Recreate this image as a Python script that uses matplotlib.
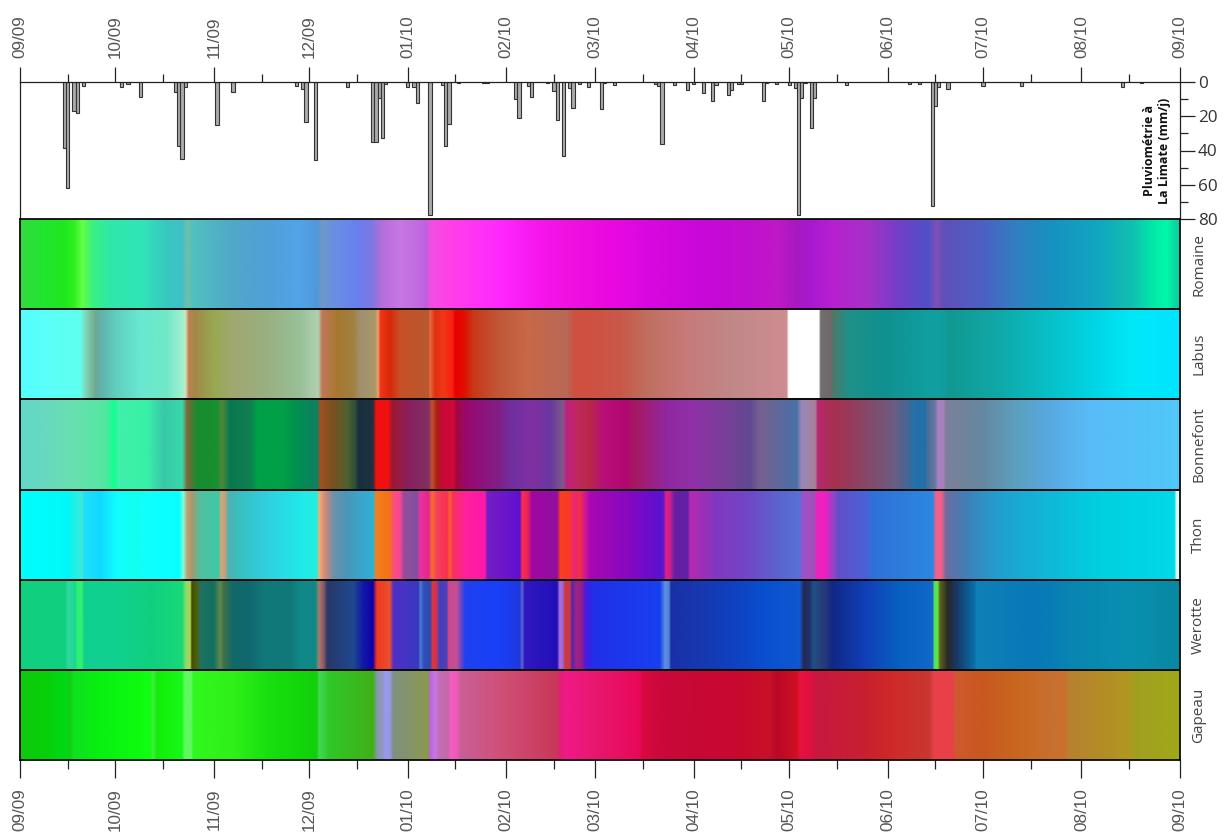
import numpy as np
import matplotlib
matplotlib.use('Agg')
import matplotlib.pyplot as plt
from matplotlib.colors import to_rgb

# days counted from 01/09/2009
month_days = [0, 30, 61, 91, 122, 153, 181, 212, 242, 273, 303, 334, 365]
month_labels = ['09/09', '10/09', '11/09', '12/09', '01/10', '02/10', '03/10', '04/10', '05/10', '06/10', '07/10', '08/10', '09/10']
mid_month_days = [15, 45, 76, 106, 137, 168, 196, 227, 257, 288, 318, 349]

# rainfall at La Limate
rain_days = [14, 15, 17, 18, 20, 32, 34, 38, 49, 50, 51, 52, 62, 67, 87, 89, 90, 93, 103, 111, 112, 113, 114, 115,
             122, 124, 125, 129, 133, 134, 135, 138, 146, 147, 156, 157, 160, 161, 166, 168, 169, 171, 173, 174, 176,
             179, 183, 184, 187, 200, 201, 202, 206, 210, 212, 215, 218, 219, 223, 224, 226, 227, 234, 235, 238, 242,
             244, 245, 246, 247, 249, 250, 260, 280, 283, 287, 288, 289, 292, 303, 315, 347, 353]
rain_mm = [38.7, 62, 16.7, 18.3, 2.5, 3.1, 1, 9, 5.8, 37.4, 44.8, 3.1, 25.3, 5.8, 2.5, 4.3, 23.2, 45.5, 3.1, 34.8, 34.8, 9.5, 32.5, 1.2,
           3.1, 3.1, 12.5, 77.7, 1.6, 37.4, 24.5, 0.8, 0.8, 0.8, 10.1, 21, 2.3, 9, 0.8, 5.3, 22.4, 43.2, 3.7, 15.4, 1,
           3.1, 16, 0.8, 1.6, 1.2, 2.3, 36.2, 1.6, 4.5, 1, 6.6, 10.9, 1.6, 7.4, 4.5, 1.2, 1.2, 10.9, 0.8, 1, 1.8,
           3.7, 77.7, 9.5, 0.8, 26.9, 9.5, 1.8, 1, 1, 72.2, 13.8, 3.1, 3.9, 2.3, 2.5, 3.1, 0.8]

rain_ticks = [0, 20, 40, 60, 80]
rain_minor = [10, 30, 50, 70]

strip_names = ['Romaine', 'Labus', 'Bonnefont', 'Thon', 'Werotte', 'Gapeau']

# colour of each strip along the year
romaine_days = [0, 7, 14, 17, 19.5, 22.6, 28, 38, 46, 51, 52.5, 54.5, 67, 78, 88, 93.5, 95, 98.5, 106, 111, 112.7, 116.4, 119.6, 123.7, 128, 129, 135, 151, 161.4, 174, 188, 198, 214, 229.7, 238, 244.5, 248.6, 256, 266.5, 277, 286, 288.5, 290.5, 303, 313.7, 324, 340, 350, 358, 361, 365]
romaine_colors = ['#35d93f', '#22e530', '#1ee81e', '#30f020', '#66ff44', '#3cf080', '#2fe8a8', '#30e5b8', '#38c8c0', '#40c0c8', '#6cc0a8', '#50c0c0', '#50a8c8', '#50a0d8', '#50a4e8', '#5098d8', '#7098c8', '#6890e0', '#6880f0', '#8078e0', '#a870d8', '#c070e0', '#c878e0', '#c070e0', '#c060e0', '#f050e0', '#ff40e8', '#ff28ff', '#f818f0', '#f010e0', '#e808e0', '#d808e0', '#c808d8', '#c010d0', '#c018c8', '#a818c0', '#a818d0', '#b820d0', '#a830c8', '#7040c8', '#5050c8', '#8050b8', '#6050b8', '#4c60c4', '#3080c0', '#1890c0', '#10a8c0', '#10c0b0', '#00f0a8', '#00f8a8', '#10c8a0']

labus_days = [0, 18.9, 20.5, 23.6, 25, 30.4, 37.8, 46, 51, 52, 53, 55, 60.8, 67, 77.7, 88, 93.8, 95, 99.7, 104.9, 107, 111.7, 112.7, 113.3, 116.4, 119.6, 128.5, 129, 130.6, 133, 136, 137, 140, 142.6, 151, 159.5, 172, 174.6, 178, 188.8, 198, 208.7, 224, 241.4, 241.8, 251.6, 251.8, 255.4, 255.8, 260.6, 271.6, 287.3, 291.5, 292, 308, 324, 340, 350, 365]
labus_colors = ['#55ffff', '#60fff0', '#80d8b8', '#70a890', '#60b0a8', '#60d0c0', '#68e8d0', '#70e8c8', '#a0f0d0', '#c8e8c0', '#c08050', '#a08848', '#98a850', '#a0a870', '#98b080', '#98c098', '#b0d0b0', '#c07858', '#a87830', '#a08040', '#a09070', '#a89868', '#f0a070', '#f03818', '#d82808', '#c85028', '#b85830', '#e86840', '#e03010', '#f03818', '#f82010', '#e80000', '#e01000', '#c83818', '#c05838', '#c86848', '#b86858', '#d05040', '#d05040', '#c85848', '#c07060', '#c87878', '#c08888', '#d08c90', '#ffffff', '#ffffff', '#707070', '#706868', '#507868', '#209088', '#109090', '#10a0a0', '#109c9c', '#109890', '#10a8a8', '#08c0c8', '#00d8e8', '#00e8f8', '#00e4ff']

bonnefont_days = [0, 7, 16.8, 27, 29.4, 30.9, 40, 45, 51, 52.5, 55.6, 62, 63.5, 66, 72.4, 74.6, 82.8, 87, 93.5, 94.4, 98.5, 102.9, 105.4, 106.4, 111, 112, 115.8, 117, 122.7, 128.5, 129.6, 131.2, 132.8, 136.3, 137.5, 140.6, 151, 155, 161.4, 166.8, 170.9, 172, 175, 179.3, 183.5, 191, 193, 203.6, 211.8, 222.5, 229.7, 232.9, 244.4, 246, 250.4, 251, 256, 263.4, 274.8, 280, 281, 284.8, 285.8, 288, 289, 290.5, 291.5, 303, 313.7, 324, 336.7, 365]
bonnefont_colors = ['#60d8c8', '#68d8c0', '#68e0b0', '#50e8a0', '#10ff90', '#40f0a8', '#38f0a8', '#38c8a8', '#38d8a8', '#806838', '#188c30', '#189030', '#508838', '#087850', '#108050', '#00a048', '#00a048', '#009050', '#108060', '#a05020', '#785020', '#506030', '#305038', '#183040', '#203040', '#f01010', '#f01010', '#a01830', '#882060', '#803060', '#c05030', '#a82010', '#c80838', '#d00838', '#a00840', '#980870', '#802088', '#7030a0', '#8030a0', '#6838a0', '#805888', '#c02080', '#c02860', '#b82848', '#b81078', '#b00870', '#a81860', '#9028a0', '#9030a8', '#784098', '#604890', '#786090', '#4870a8', '#9888b8', '#a88098', '#b82870', '#a83050', '#904060', '#6c5c80', '#406898', '#2870a8', '#2070a8', '#4c7098', '#6878a0', '#a880c0', '#a880c0', '#7c8098', '#6488a0', '#5ca0c0', '#58a8e0', '#58bcf8', '#50c8f8']

thon_days = [0, 14.7, 17.3, 19.5, 19.9, 25, 30.5, 35.6, 41, 50, 51.3, 52.5, 54, 56.6, 62.4, 63.2, 64.5, 65.5, 69, 77.7, 88, 93.4, 94, 96, 98.5, 102.9, 111, 112, 116.4, 117.4, 119.6, 120.6, 121.7, 124.9, 125.9, 128.5, 129.6, 131, 134.3, 135.3, 136.2, 140.6, 146.3, 147, 151, 157.3, 158, 159.9, 161, 169, 170, 173, 174, 175, 176, 177.8, 179.4, 191, 201.4, 202.6, 203.2, 204.5, 206, 210.2, 210.8, 219.3, 229.7, 240.1, 245.4, 246.4, 250, 250.8, 253.3, 256.4, 257.4, 266.4, 268, 287.3, 288.2, 290, 291.5, 298, 308.3, 324, 340, 363.4, 364, 365]
thon_colors = ['#00ffff', '#00f8f8', '#20f0e8', '#40e8d8', '#20e0f8', '#10d8ff', '#10ffff', '#10fff0', '#10ffff', '#08ffff', '#80ffe0', '#c0a070', '#a89870', '#50c0a0', '#40c8a8', '#d0a870', '#c0a080', '#50b0b0', '#38c0c0', '#30d0e0', '#20e8e8', '#20f0e0', '#f0b070', '#d08878', '#7090a8', '#4898b8', '#30b0d8', '#f08020', '#f87018', '#f85080', '#f84890', '#a048a0', '#905098', '#8050a0', '#f030a0', '#e02890', '#f87020', '#f84060', '#f83050', '#f86030', '#f83060', '#ff20a0', '#ff18a8', '#7020c0', '#7018c8', '#6010d0', '#f83050', '#e82060', '#a008a0', '#9010a0', '#f84020', '#f83828', '#f02870', '#e82870', '#f83040', '#d01890', '#a808b0', '#8808c0', '#5c10d0', '#6018c8', '#e02080', '#d02090', '#6820a0', '#6020a8', '#b828b0', '#8038c0', '#7048c8', '#5868d0', '#5870d8', '#a050c8', '#a050b8', '#f020c0', '#f020c0', '#8848c8', '#6050c8', '#4c60d8', '#3070d8', '#2c88e0', '#f06090', '#f06088', '#6c6ca0', '#4080b8', '#20a0d0', '#10b8d8', '#00d0e0', '#00d8e8', '#e0f8f8', '#e0f8f8']

werotte_days = [0, 14, 15.2, 17.3, 18, 19.5, 20, 30.5, 41, 51, 52, 53.5, 54, 55.6, 56.6, 60.8, 63, 64, 67, 72.4, 76.5, 85, 88, 93, 93.9, 95.5, 96.6, 104.9, 108, 111, 112.2, 116.4, 117.4, 125.4, 125.9, 127, 129, 129.8, 131, 132, 134.3, 134.8, 137.4, 140, 151, 157.3, 158, 158.7, 169, 169.8, 171, 171.5, 173, 173.7, 175, 176.8, 177.8, 180.4, 201.4, 203, 204.3, 204.8, 214, 224.4, 235, 245.4, 246.7, 248.6, 249.6, 253.3, 255.8, 266.4, 277, 287.3, 287.7, 288.9, 289.5, 290.8, 292, 294.8, 300.5, 301, 318.9, 334.5, 350, 365]
werotte_colors = ['#10d080', '#10d080', '#30d8a0', '#18d890', '#30f070', '#30f070', '#10d090', '#10d090', '#10d080', '#18d878', '#80e060', '#b8d060', '#405000', '#506008', '#207060', '#107060', '#608850', '#407048', '#106868', '#106870', '#107878', '#107878', '#108888', '#108888', '#a08070', '#905860', '#283868', '#204890', '#1018a8', '#1000a8', '#f03820', '#e85030', '#5030c8', '#3838c0', '#5080d8', '#3050b8', '#3048b0', '#e03838', '#d03050', '#4040c0', '#5040b8', '#d04888', '#c05098', '#2040f0', '#1840f8', '#2038e0', '#6068c8', '#3018c0', '#2010b8', '#b070e0', '#a060c0', '#d03838', '#c83850', '#5028a8', '#a02088', '#902088', '#5018e0', '#2030e8', '#1840f0', '#6090e0', '#5080d8', '#1830a8', '#1838b0', '#1040c0', '#0850d0', '#1058d0', '#282850', '#203070', '#205080', '#283878', '#102888', '#1040b8', '#0860c0', '#1068c8', '#50e060', '#60e840', '#606020', '#404820', '#282828', '#183868', '#0870a8', '#1080b8', '#0878b8', '#0888b0', '#0890b0', '#0888a0']

gapeau_days = [0, 7.4, 14.2, 15.8, 16.7, 25, 41, 41.8, 42.8, 43.5, 51, 51.6, 53.8, 54.4, 67, 77.7, 93.4, 93.9, 96, 97, 111, 112.4, 114.3, 114.8, 116.4, 117.4, 125.9, 128.5, 129, 130.6, 131.7, 134.8, 135.3, 137.5, 138.5, 151, 169, 169.7, 172, 180.4, 195, 196, 203.6, 224.4, 236, 238, 244.5, 245.4, 248.6, 250.7, 266.4, 273.7, 286.3, 287.6, 293.6, 294.2, 303, 314.7, 325, 329.4, 329.8, 350, 350.7, 365]
gapeau_colors = ['#10c810', '#08d008', '#00d818', '#10d010', '#10e020', '#08f010', '#10ff10', '#40f040', '#20e818', '#10f008', '#18f818', '#60f860', '#60f860', '#30f820', '#30f018', '#18e010', '#10d008', '#40d850', '#38d040', '#30c828', '#40b018', '#8898b0', '#9098c8', '#9898f0', '#9898e0', '#809080', '#889858', '#889850', '#c060e0', '#c878e8', '#c070b8', '#c868a8', '#f060c0', '#f058b8', '#c86098', '#d05078', '#c83858', '#e02070', '#f01888', '#e81870', '#e80858', '#d80840', '#c80838', '#c80830', '#c81028', '#b80828', '#d01020', '#e81040', '#e01040', '#c81840', '#c82030', '#d02828', '#c83830', '#e84048', '#e84048', '#d05830', '#c85820', '#c86820', '#c87030', '#c87030', '#b88030', '#b09820', '#a0a020', '#a0a818']

strip_days = [romaine_days, labus_days, bonnefont_days, thon_days, werotte_days, gapeau_days]
strip_colors = [romaine_colors, labus_colors, bonnefont_colors, thon_colors, werotte_colors, gapeau_colors]

W, H = 1223, 833
LINE = '#222222'
GREY = '#555555'


def px_axes(fig, left, top, right, bottom):
    return fig.add_axes([left / W, 1 - bottom / H, (right - left) / W, (bottom - top) / H])


fig = plt.figure(figsize=(W / 100, H / 100), dpi=100)

# -----rain panel-----
ax_rain = px_axes(fig, 20, 82, 1180, 219)
ax_rain.bar(rain_days, rain_mm, width=1, facecolor='#aaaaaa', edgecolor='#333333', linewidth=0.8)
ax_rain.set_xlim(0, 365)
ax_rain.set_ylim(80, 0)
ax_rain.spines['bottom'].set_visible(False)
for s in ['left', 'right', 'top']:
    ax_rain.spines[s].set_color(LINE)
    ax_rain.spines[s].set_linewidth(0.9)

ax_rain.xaxis.tick_top()
ax_rain.set_xticks(month_days)
ax_rain.set_xticklabels(month_labels, rotation=90, family='Liberation Sans', fontsize=12.3, color=GREY)
ax_rain.set_xticks(mid_month_days, minor=True)
ax_rain.tick_params(axis='x', which='major', length=10.8, width=0.9, color=LINE, pad=6.5)
ax_rain.tick_params(axis='x', which='minor', length=5.8, width=0.9, color=LINE)

ax_rain.yaxis.tick_right()
ax_rain.set_yticks(rain_ticks)
ax_rain.set_yticklabels([str(v) for v in rain_ticks], family='Open Sans', fontsize=12.3, color='#333333')
ax_rain.set_yticks(rain_minor, minor=True)
ax_rain.tick_params(axis='y', which='major', length=10.8, width=0.9, color=LINE, pad=2)
ax_rain.tick_params(axis='y', which='minor', length=5.8, width=0.9, color=LINE)

ax_rain.text(357.8, 40, 'Pluviométrie à\nLa Limate (mm/j)', rotation=90, ha='center', va='center', multialignment='center',
             family='Open Sans', fontweight='bold', fontsize=9, color='#111111', linespacing=1.2)

# -----colour strips-----
ax = px_axes(fig, 20, 219, 1180, 760)
grid = np.arange(0, 365.25, 0.25)
for i in range(len(strip_names)):
    days = np.array(strip_days[i])
    rgb = np.array([to_rgb(c) for c in strip_colors[i]])
    row = np.stack([np.interp(grid, days, rgb[:, k]) for k in range(3)], axis=1)
    ax.imshow(row[np.newaxis, :, :], extent=[0, 365, i + 1, i], aspect='auto', interpolation='bilinear')
ax.set_xlim(0, 365)
ax.set_ylim(len(strip_names), 0)

for i in range(1, len(strip_names)):
    ax.axhline(i, color='#0a0a0a', linewidth=1.4)
for s in ax.spines.values():
    s.set_color('#0a0a0a')
    s.set_linewidth(1.3)

ax.set_xticks(month_days)
ax.set_xticklabels(month_labels, rotation=90, family='Liberation Sans', fontsize=12.3, color=GREY)
ax.set_xticks(mid_month_days, minor=True)
ax.tick_params(axis='x', which='major', length=13, width=0.9, color=LINE, pad=7.5)
ax.tick_params(axis='x', which='minor', length=6.5, width=0.9, color=LINE)

ax.yaxis.tick_right()
ax.set_yticks(np.arange(len(strip_names)) + 0.5)
ax.set_yticklabels(strip_names, rotation=90, va='center', family='Open Sans', fontsize=11, color='#444444')
ax.tick_params(axis='y', length=0, pad=8)

fig.savefig('out.png', dpi=100)
